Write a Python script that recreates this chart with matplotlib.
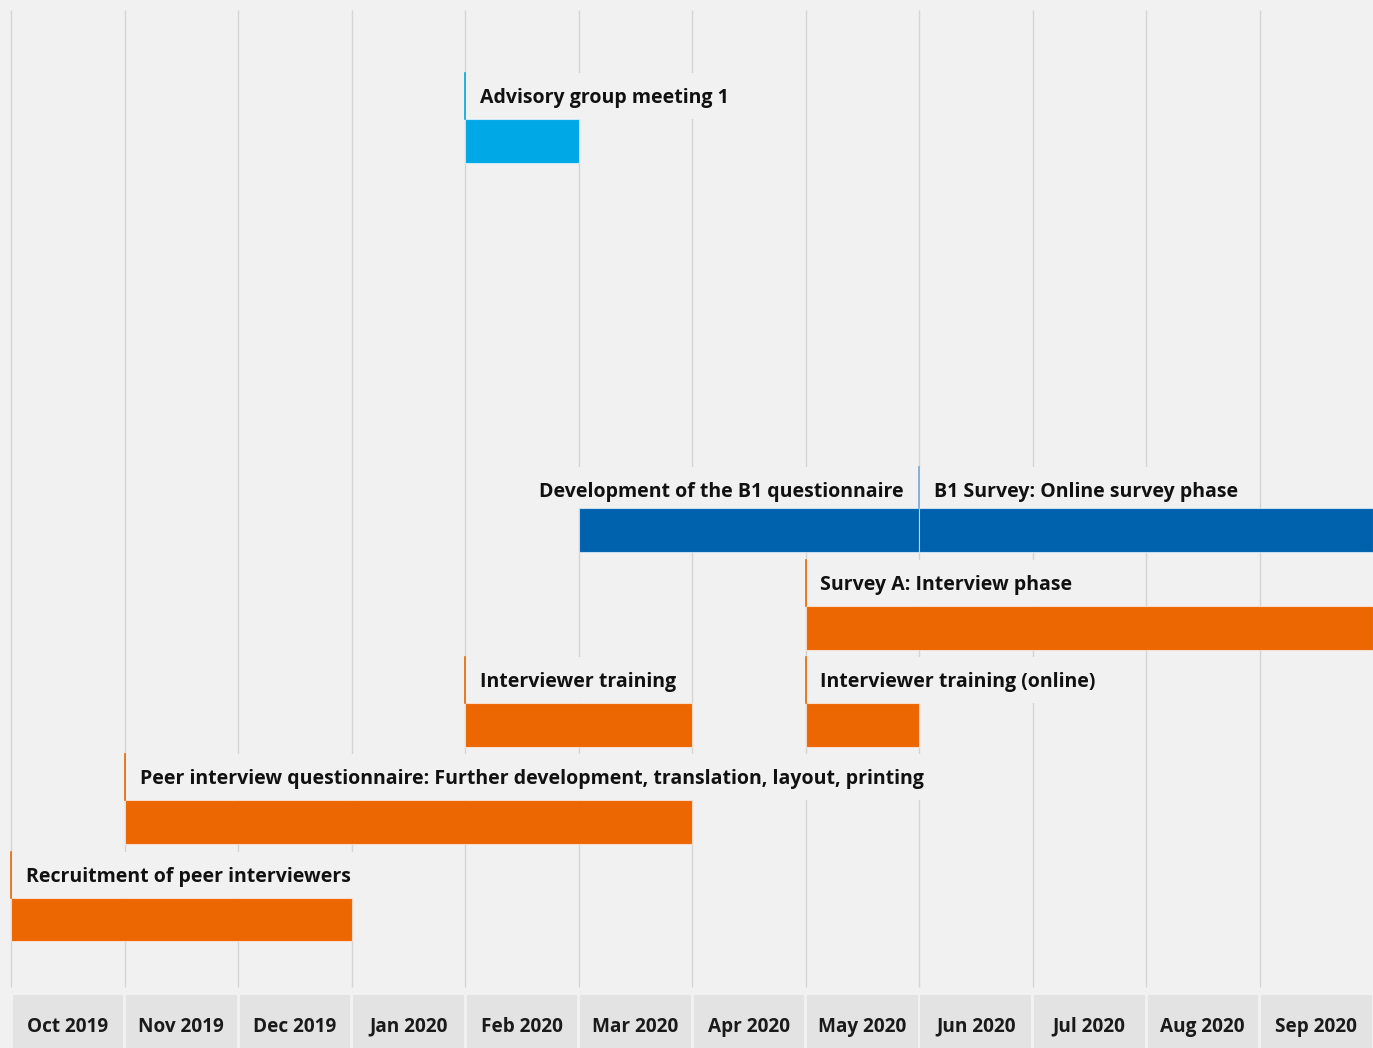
import matplotlib
matplotlib.use("Agg")
import matplotlib.pyplot as plt
from matplotlib.patches import Rectangle

plt.rcParams['font.family'] = ['Open Sans', 'DejaVu Sans']

months = ["Oct 2019", "Nov 2019", "Dec 2019", "Jan 2020", "Feb 2020", "Mar 2020",
          "Apr 2020", "May 2020", "Jun 2020", "Jul 2020", "Aug 2020", "Sep 2020"]

task_names = [
    "Recruitment of peer interviewers",
    "Peer interview questionnaire: Further development, translation, layout, printing",
    "Interviewer training",
    "Interviewer training (online)",
    "Survey A: Interview phase",
    "Development of the B1 questionnaire",
    "B1 Survey: Online survey phase",
    "Advisory group meeting 1",
]
first_month = ["Oct 2019", "Nov 2019", "Feb 2020", "May 2020", "May 2020", "Mar 2020", "Jun 2020", "Feb 2020"]
last_month = ["Dec 2019", "Mar 2020", "Mar 2020", "May 2020", "Sep 2020", "May 2020", "Sep 2020", "Feb 2020"]
task_row = [0, 1, 2, 2, 3, 4, 4, 8]
task_kind = ["orange", "orange", "orange", "orange", "orange", "navy", "navy", "cyan"]
label_side = ["left", "left", "left", "left", "left", "right", "left", "left"]

colors = {"orange": "#ec6602", "navy": "#0062ad", "cyan": "#00a8e6"}
marker_colors = {"orange": "#ec6602", "navy": "#76aadb", "cyan": "#00a8e6"}
bg = "#f1f1f1"
grid_color = "#d4d4d4"

W, H = 1373, 1048
fig = plt.figure(figsize=(W / 100, H / 100), dpi=100, facecolor=bg)

# main timeline area: month boundaries run from x=11px to the right edge
ax = fig.add_axes([11 / W, 58 / H, 1362 / W, 990 / H])
ax.set_xlim(0, 12)
ax.set_ylim(-0.7246, 9.45)
ax.axis("off")

row_px = 97.3
bar_h = 0.452
px_pt = 0.72

ax.vlines(range(12), -0.694, 9.35, color=grid_color, lw=1, zorder=1, clip_on=False)

texts = []
for name, m0, m1, row, kind, side in zip(task_names, first_month, last_month,
                                         task_row, task_kind, label_side):
    x0 = months.index(m0)
    x1 = months.index(m1) + 1
    ax.barh(row, x1 - x0, left=x0, height=bar_h, color=colors[kind],
            edgecolor=(1, 1, 1, 0.6), lw=0.8, zorder=3)
    top = row + bar_h / 2
    # the B1 row sits a little tighter under its labels
    lift, stem = (11, 41) if kind == "navy" else (16, 46)
    stem_h = stem / row_px
    if side == "left":
        ax.plot([x0, x0], [top, top + stem_h], color=marker_colors[kind], lw=1.2,
                zorder=3, clip_on=False)
        t = ax.annotate(name, xy=(x0, top), xytext=(15 * px_pt, lift * px_pt),
                        textcoords="offset points", ha="left", va="baseline",
                        fontsize=14.0, fontweight="bold", color="#111111", zorder=4)
    else:
        t = ax.annotate(name, xy=(x1, top), xytext=(-15 * px_pt, lift * px_pt),
                        textcoords="offset points", ha="right", va="baseline",
                        fontsize=14.0, fontweight="bold", color="#111111", zorder=4)
    texts.append((t, x0, x1, top, side, stem_h))

# blank out the gridlines behind each label
fig.canvas.draw()
inv = ax.transData.inverted()
for t, x0, x1, top, side, stem_h in texts:
    bb = t.get_window_extent()
    (tx0, _), (tx1, _) = inv.transform([[bb.x0, bb.y0], [bb.x1, bb.y1]])
    pad = 0.04
    if side == "left":
        left, right = x0 + 0.01, tx1 + pad
    else:
        left, right = tx0 - pad, x1 - 0.01
    ax.add_patch(Rectangle((left, top), right - left, stem_h, facecolor=bg,
                           edgecolor="none", zorder=2))

# month strip along the bottom
axm = fig.add_axes([11 / W, 0, 1362 / W, 53 / H])
axm.set_xlim(0, 12)
axm.set_ylim(0, 1)
axm.axis("off")
axm.bar([i + 0.5 for i in range(12)], 1, width=1 - 3 / 113.5, color="#e3e3e3")
for i, m in enumerate(months):
    axm.text(i + 0.5, 0.40, m, ha="center", va="center", fontsize=13.7,
             fontweight="bold", color="#1a1a1a")

fig.savefig("out.png", dpi=100, facecolor=bg)
